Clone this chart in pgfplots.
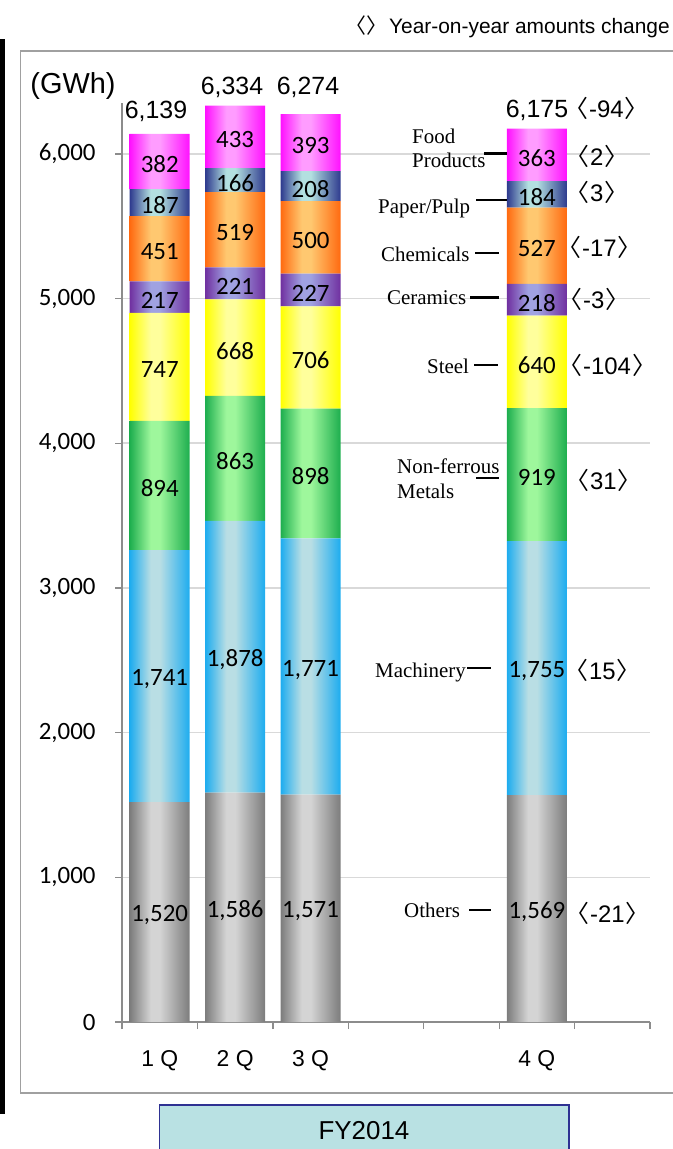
\documentclass[border=0pt]{standalone}
\usepackage{fontspec}
\setmainfont{Liberation Sans}
\newfontfamily\carlito{Carlito}
\newfontfamily\timesf{Liberation Serif}
\newfontfamily\cjk{Noto Sans CJK JP}
\usepackage{pgfplots}
\pgfplotsset{compat=1.18}

% segment colours: edge colour and the lighter centre of each bar
\definecolor{othE}{HTML}{7C7C7C}\definecolor{othM}{HTML}{D4D4D4}
\definecolor{macE}{HTML}{1DACEF}\definecolor{macM}{HTML}{B9DEE4}
\definecolor{nfeE}{HTML}{1DAE4E}\definecolor{nfeM}{HTML}{9EF79C}
\definecolor{stlE}{HTML}{FFFF00}\definecolor{stlM}{HTML}{FFFF9C}
\definecolor{cerE}{HTML}{7030A0}\definecolor{cerM}{HTML}{A0A2E2}
\definecolor{chmE}{HTML}{FF6A10}\definecolor{chmM}{HTML}{FFC870}
\definecolor{papE}{HTML}{2E3A8E}\definecolor{papM}{HTML}{B3E0E0}
\definecolor{fodE}{HTML}{FF10FF}\definecolor{fodM}{HTML}{FF9CFF}
\definecolor{axisgray}{HTML}{8C8C8C}
\definecolor{gridgray}{HTML}{D9D9D9}
\definecolor{boxgray}{HTML}{A0A0A0}
\definecolor{fyfill}{HTML}{B9E1E3}
\definecolor{fydraw}{HTML}{2E3192}

% A series' four bars (at 0.5, 1.5, 2.5, 5.5 with 75.43bp per unit, 60bp wide)
% span 437.15bp, which a shading maps onto its central 25bp..75bp band.
% Each bar gets its own dark-light-dark profile.
\newcommand\barshading[3]{%
  \pgfdeclarehorizontalshading{#1}{100bp}{%
    color(0bp)=(#2); color(25bp)=(#2); color(27.402bp)=(#3); color(28.431bp)=(#3); color(31.863bp)=(#2);
    color(33.627bp)=(#2); color(36.029bp)=(#3); color(37.059bp)=(#3); color(40.490bp)=(#2);
    color(42.255bp)=(#2); color(44.657bp)=(#3); color(45.686bp)=(#3); color(49.117bp)=(#2);
    color(68.137bp)=(#2); color(70.539bp)=(#3); color(71.569bp)=(#3); color(75bp)=(#2);
    color(100bp)=(#2)}}
\barshading{shOth}{othE}{othM}
\barshading{shMac}{macE}{macM}
\barshading{shNfe}{nfeE}{nfeM}
\barshading{shStl}{stlE}{stlM}
\barshading{shCer}{cerE}{cerM}
\barshading{shChm}{chmE}{chmM}
\barshading{shPap}{papE}{papM}
\barshading{shFod}{fodE}{fodM}

\newcommand\fs[1]{\fontsize{#1}{#1}\selectfont}
\newcommand\lb{{\cjk\kern-0.55em〈\kern0.05em}}
\newcommand\rb{{\cjk\kern0.05em〉}}

\begin{document}
\begin{tikzpicture}[x=1bp,y=-1bp]
\useasboundingbox (0,0) rectangle (673,1149);
\fill[black] (0,39) rectangle (5,1114);
\draw[boxgray, line width=1.6bp] (20.5,51) rectangle (700,1093);

\begin{axis}[
  at={(122bp,-1022bp)}, anchor=south west,
  x=75.43bp, y=0.1447bp,
  xmin=0, xmax=7, ymin=0, ymax=6350,
  ybar stacked, bar width=60bp,
  axis x line*=bottom, axis y line*=left,
  axis line style={draw=axisgray, line width=1.6bp},
  tick align=outside, major tick length=7bp,
  tick style={draw=axisgray, line width=1.3bp},
  xtick={0,...,7}, xticklabels={},
  extra x ticks={0.5,1.5,2.5,5.5},
  extra x tick labels={1 Q,2 Q,3 Q,4 Q},
  extra x tick style={major tick length=0pt,
    xticklabel style={font=\fs{23}, yshift=-25bp}},
  ytick={0,1000,...,6000},
  ymajorgrids, grid style={draw=gridgray, line width=1.6bp},
  yticklabel style={font=\carlito\fs{25}, xshift=-16bp},
  scaled y ticks=false,
  /pgf/number format/assume math mode=true,
  /pgf/number format/1000 sep={,},
  nodes near coords, point meta=rawy,
  every node near coord/.append style={font=\carlito\fs{25}, text=black,
    anchor=center, yshift=-3bp, inner sep=1bp},
]
% Others
\addplot[draw=none, shading=shOth]
  coordinates {(0.5,1520) (1.5,1586) (2.5,1571) (5.5,1569)};
% Machinery
\addplot[draw=none, shading=shMac]
  coordinates {(0.5,1741) (1.5,1878) (2.5,1771) (5.5,1755)};
% Non-ferrous Metals
\addplot[draw=none, shading=shNfe]
  coordinates {(0.5,894) (1.5,863) (2.5,898) (5.5,919)};
% Steel
\addplot[draw=none, shading=shStl]
  coordinates {(0.5,747) (1.5,668) (2.5,706) (5.5,640)};
% Ceramics
\addplot[draw=none, shading=shCer]
  coordinates {(0.5,217) (1.5,221) (2.5,227) (5.5,218)};
% Chemicals
\addplot[draw=none, shading=shChm]
  coordinates {(0.5,451) (1.5,519) (2.5,500) (5.5,527)};
% Paper/Pulp
\addplot[draw=none, shading=shPap]
  coordinates {(0.5,187) (1.5,166) (2.5,208) (5.5,184)};
% Food Products
\addplot[draw=none, shading=shFod]
  coordinates {(0.5,382) (1.5,433) (2.5,393) (5.5,363)};
\end{axis}

% unit and quarterly totals
\node[font=\fs{29}] at (73,86) {(GWh)};
\node[font=\fs{25}, anchor=base] at (156,118) {6,139};
\node[font=\fs{25}, anchor=base] at (232,94) {6,334};
\node[font=\fs{25}, anchor=base] at (308,94) {6,274};
\node[font=\fs{25}, anchor=base] at (537,117) {6,175};

% year-on-year changes for 4Q
\begin{scope}[every node/.style={font=\fs{24}, anchor=base west, inner sep=0pt}]
\node at (577,117) {\lb-94\rb};
\node at (578,165) {\lb2\rb};
\node at (578,201) {\lb3\rb};
\node at (570,256) {\lb-17\rb};
\node at (571,308) {\lb-3\rb};
\node at (571,374) {\lb-104\rb};
\node at (578,489) {\lb31\rb};
\node at (577,679) {\lb15\rb};
\node at (578,922) {\lb-21\rb};
\end{scope}

% industry names with leader lines
\begin{scope}[every node/.style={font=\timesf\fs{21}, anchor=base west, inner sep=0pt}]
\node at (412,143) {Food};
\node at (412,167) {Products};
\node at (378,213) {Paper/Pulp};
\node at (381,261) {Chemicals};
\node at (387,304) {Ceramics};
\node at (427,373) {Steel};
\node at (397,473) {Non-ferrous};
\node at (397,498) {Metals};
\node at (375,677) {Machinery};
\node at (404,917) {Others};
\end{scope}
\draw[line width=3bp] (484,153) -- (507,153);
\draw[line width=2bp] (476,200) -- (507,200);
\draw[line width=2bp] (475,253) -- (499,253);
\draw[line width=3bp] (470,297) -- (499,297);
\draw[line width=2bp] (474,365) -- (498,365);
\draw[line width=2bp] (476,478) -- (499,478);
\draw[line width=2bp] (467,668) -- (491,668);
\draw[line width=2bp] (469,910) -- (491,910);

% header note
\node[font=\fs{21}, anchor=east, inner sep=0pt] at (670,27) {{\cjk 〈〉}\kern0.1em Year-on-year amounts change};

% fiscal year box
\draw[fydraw, fill=fyfill, line width=1.8bp] (159.5,1105) rectangle (569,1165);
\node[font=\fs{26}] at (364,1131) {FY2014};
\end{tikzpicture}
\end{document}
